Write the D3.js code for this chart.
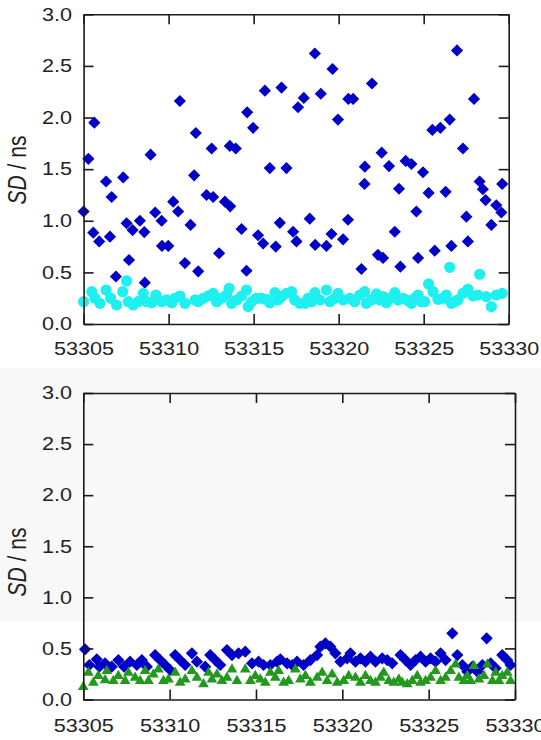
<!DOCTYPE html>
<html><head><meta charset="utf-8">
<script src="https://cdn.jsdelivr.net/npm/d3@7"></script>
<style>body{margin:0;background:#fff}svg{display:block}</style>
</head><body>
<svg id="c" width="541" height="740"></svg>
<script>
// ---------- data ----------
const xTicks = [53305, 53310, 53315, 53320, 53325, 53330];
const yTicks = [0, 0.5, 1.0, 1.5, 2.0, 2.5, 3.0];

// top panel: blue diamonds
const topBlueMJD = [53305.00,53305.28,53305.57,53305.63,53305.92,53306.32,53306.55,53306.65,53306.90,53307.33,53307.53,53307.67,53307.88,53308.31,53308.57,53308.60,53308.94,53309.21,53309.59,53309.61,53309.98,53310.27,53310.56,53310.66,53310.96,53311.29,53311.50,53311.60,53311.74,53312.23,53312.53,53312.62,53312.97,53313.31,53313.60,53313.62,53313.95,53314.29,53314.58,53314.62,53314.97,53315.26,53315.56,53315.66,53315.95,53316.30,53316.54,53316.64,53316.93,53317.32,53317.52,53317.61,53317.95,53318.30,53318.60,53318.62,53318.95,53319.28,53319.58,53319.64,53319.96,53320.26,53320.55,53320.57,53320.85,53321.34,53321.52,53321.54,53321.96,53322.31,53322.53,53322.61,53322.96,53323.30,53323.55,53323.63,53323.94,53324.28,53324.57,53324.67,53324.96,53325.29,53325.51,53325.65,53325.98,53326.29,53326.53,53326.63,53326.96,53327.31,53327.51,53327.60,53327.96,53328.29,53328.48,53328.64,53328.98,53329.27,53329.57,53329.62];
const topBlueSD  = [1.09,1.60,0.885,1.95,0.80,1.38,0.846,1.23,0.46,1.42,0.976,0.62,0.91,1.00,0.89,0.40,1.64,1.08,1.00,0.756,0.756,1.185,1.09,2.16,0.59,0.96,1.44,1.85,0.51,1.25,1.70,1.23,0.685,1.185,1.725,1.14,1.70,0.92,0.516,2.05,1.90,0.86,0.78,2.26,1.51,0.75,0.98,2.29,1.51,0.894,0.80,2.10,2.19,1.02,2.62,0.766,2.23,0.756,0.872,2.47,1.98,0.82,1.01,2.18,2.18,0.533,1.357,1.524,2.33,0.67,1.66,0.64,1.53,0.894,1.31,0.555,1.58,1.55,1.09,0.64,1.47,1.27,1.88,0.71,1.90,1.28,1.98,0.756,2.65,1.70,1.04,0.80,2.18,1.38,1.305,1.20,0.96,1.15,1.08,1.357];

// top panel: cyan circles
const topCyanMJD = [53305.00,53305.48,53305.67,53305.96,53306.32,53306.59,53306.94,53307.30,53307.53,53307.63,53307.92,53308.21,53308.51,53308.71,53309.00,53309.25,53309.59,53309.88,53310.18,53310.37,53310.66,53310.96,53311.55,53311.74,53312.03,53312.33,53312.62,53312.82,53313.11,53313.41,53313.56,53313.70,53314.00,53314.29,53314.58,53314.68,53314.88,53315.17,53315.46,53315.76,53315.95,53316.25,53316.44,53316.64,53316.93,53317.23,53317.42,53317.71,53318.01,53318.20,53318.40,53318.60,53318.89,53319.28,53319.48,53319.77,53319.96,53320.26,53320.65,53320.94,53321.24,53321.53,53321.63,53321.93,53322.22,53322.41,53322.61,53322.81,53323.00,53323.30,53323.49,53323.78,53324.08,53324.28,53324.47,53324.67,53324.86,53325.06,53325.29,53325.55,53325.84,53326.13,53326.33,53326.53,53326.63,53326.82,53327.02,53327.31,53327.60,53327.90,53328.19,53328.29,53328.68,53328.98,53329.27,53329.62];
const topCyanSD  = [0.216,0.313,0.249,0.20,0.329,0.249,0.184,0.313,0.417,0.216,0.184,0.216,0.297,0.216,0.206,0.281,0.216,0.233,0.206,0.249,0.271,0.20,0.233,0.216,0.249,0.271,0.297,0.216,0.249,0.281,0.346,0.20,0.233,0.271,0.329,0.168,0.216,0.249,0.249,0.239,0.206,0.304,0.233,0.265,0.297,0.313,0.233,0.20,0.20,0.249,0.216,0.304,0.233,0.329,0.216,0.249,0.297,0.233,0.249,0.216,0.281,0.313,0.20,0.233,0.291,0.233,0.265,0.206,0.249,0.304,0.233,0.249,0.226,0.20,0.249,0.281,0.216,0.216,0.388,0.313,0.239,0.249,0.281,0.549,0.20,0.216,0.233,0.297,0.336,0.271,0.281,0.482,0.265,0.168,0.281,0.297];

// bottom panel: blue diamonds
const botBlueMJD = [53305.10,53305.35,53305.78,53305.93,53306.26,53306.65,53307.03,53307.36,53307.71,53308.10,53308.39,53308.68,53309.16,53309.45,53309.74,53310.03,53310.32,53310.61,53310.90,53311.29,53311.58,53312.06,53312.35,53312.64,53312.93,53313.32,53313.61,53313.99,53314.38,53314.77,53315.15,53315.44,53315.83,53316.22,53316.41,53316.80,53317.09,53317.38,53317.76,53318.15,53318.54,53318.73,53319.02,53319.31,53319.60,53319.89,53320.28,53320.47,53320.76,53321.05,53321.34,53321.63,53321.92,53322.31,53322.60,53322.89,53323.37,53323.66,53323.95,53324.24,53324.53,53324.82,53325.11,53325.40,53325.69,53325.98,53326.37,53326.66,53326.95,53327.24,53327.53,53327.82,53328.11,53328.36,53328.59,53328.88,53329.26,53329.55,53329.74];
const botBlueSD  = [0.491,0.338,0.393,0.321,0.354,0.321,0.386,0.321,0.37,0.338,0.386,0.321,0.435,0.386,0.338,0.289,0.435,0.386,0.338,0.452,0.37,0.321,0.435,0.386,0.338,0.484,0.435,0.452,0.468,0.354,0.37,0.338,0.338,0.37,0.393,0.354,0.338,0.37,0.338,0.386,0.435,0.517,0.55,0.517,0.452,0.37,0.403,0.452,0.37,0.403,0.37,0.419,0.37,0.403,0.386,0.354,0.435,0.386,0.338,0.386,0.419,0.37,0.403,0.37,0.452,0.386,0.648,0.435,0.338,0.272,0.321,0.272,0.338,0.599,0.354,0.305,0.435,0.386,0.338];

// bottom panel: green triangles
const botGreenMJD = [53305.00,53305.29,53305.58,53305.87,53306.26,53306.36,53306.74,53307.03,53307.42,53307.61,53308.00,53308.29,53308.58,53308.77,53309.06,53309.35,53309.64,53309.93,53310.32,53310.61,53310.90,53311.29,53311.58,53311.96,53312.25,53312.45,53312.74,53313.03,53313.32,53313.61,53313.90,53314.38,53314.67,53314.96,53315.25,53315.54,53315.83,53316.12,53316.31,53316.60,53316.89,53317.28,53317.57,53317.86,53318.15,53318.54,53318.83,53319.12,53319.41,53319.70,53320.08,53320.37,53320.76,53321.05,53321.34,53321.63,53321.92,53322.21,53322.40,53322.69,53322.98,53323.27,53323.47,53323.76,53324.05,53324.34,53324.53,53324.82,53325.11,53325.40,53325.69,53325.98,53326.27,53326.56,53326.75,53327.04,53327.24,53327.43,53327.62,53327.91,53328.20,53328.40,53328.69,53328.88,53329.07,53329.26,53329.55,53329.74];
const botGreenSD  = [0.132,0.272,0.174,0.24,0.198,0.289,0.191,0.24,0.191,0.272,0.223,0.191,0.289,0.191,0.256,0.305,0.191,0.207,0.272,0.174,0.207,0.289,0.223,0.159,0.272,0.207,0.256,0.191,0.223,0.305,0.191,0.305,0.191,0.24,0.207,0.174,0.272,0.223,0.289,0.174,0.191,0.305,0.207,0.24,0.174,0.223,0.272,0.191,0.256,0.174,0.191,0.24,0.223,0.174,0.24,0.191,0.174,0.223,0.272,0.191,0.174,0.207,0.174,0.159,0.191,0.24,0.174,0.191,0.223,0.289,0.191,0.223,0.289,0.354,0.223,0.191,0.24,0.191,0.338,0.207,0.24,0.354,0.191,0.272,0.191,0.24,0.272,0.191];

// ---------- drawing ----------
const FONT = "'Liberation Sans', Arial, Helvetica, sans-serif";
const STRETCH = 1.2;
const svg = d3.select('#c');
svg.append('rect').attr('x',0).attr('y',368).attr('width',541).attr('height',254).attr('fill','#f8f8f8');

const diamond = d3.symbol(d3.symbolSquare, 74)();
const triangle = d3.symbol(d3.symbolTriangle, 50)();

function panel(cfg) {
  const x = d3.scaleLinear().domain([53305, 53330]).range([cfg.x0, cfg.x1]);
  const y = d3.scaleLinear().domain([0, 3]).range([cfg.y0, cfg.y1]);
  const g = svg.append('g');

  cfg.series.forEach(s => {
    const data = s.mjd.map((m, i) => [m, s.sd[i]]);
    const sel = g.append('g').selectAll('path').data(data).join('path')
      .attr('fill', s.color);
    if (s.shape === 'circle') {
      sel.attr('d', d3.symbol(d3.symbolCircle, Math.PI * 5.6 * 5.6)())
         .attr('transform', d => `translate(${x(d[0])},${y(d[1])})`);
    } else if (s.shape === 'diamond') {
      sel.attr('d', diamond)
         .attr('transform', d => `translate(${x(d[0])},${y(d[1])}) rotate(45)`);
    } else {
      sel.attr('d', triangle)
         .attr('transform', d => `translate(${x(d[0])},${y(d[1]) + 1})`);
    }
  });

  const axes = [
    {a: d3.axisBottom(x).tickValues(xTicks).tickFormat(d3.format('d')).tickPadding(cfg.xpad), t: `translate(0,${cfg.y0})`, lab: 'x'},
    {a: d3.axisTop(x).tickValues(xTicks).tickFormat(''), t: `translate(0,${cfg.y1})`},
    {a: d3.axisLeft(y).tickValues(yTicks).tickFormat(d3.format('.1f')).tickPadding(cfg.ypad), t: `translate(${cfg.x0},0)`, lab: 'y'},
    {a: d3.axisRight(y).tickValues(yTicks).tickFormat(''), t: `translate(${cfg.x1},0)`}
  ];
  axes.forEach(o => {
    o.a.tickSizeInner(-10).tickSizeOuter(0);
    const ag = g.append('g').attr('transform', o.t).call(o.a);
    ag.select('.domain').attr('stroke', '#1a1a1a').attr('stroke-width', 1.6);
    ag.selectAll('.tick line').attr('stroke', '#1a1a1a').attr('stroke-width', 1.6);
    ag.selectAll('.tick text').attr('font-family', FONT).attr('font-size', 18).attr('fill', '#222');
    if (o.lab === 'x') {
      ag.selectAll('.tick text').attr('transform', `scale(${STRETCH},1)`);
    } else if (o.lab === 'y') {
      ag.selectAll('.tick text').attr('x', -cfg.ypad / STRETCH).attr('transform', `scale(${STRETCH},1)`);
    }
  });

  const t = svg.append('text')
    .attr('transform', `translate(26,${cfg.titleY}) scale(${STRETCH},1) rotate(-90)`)
    .attr('text-anchor', 'middle')
    .attr('font-family', FONT).attr('font-size', 21).attr('fill', '#222');
  t.append('tspan').attr('font-style', 'italic').text('SD');
  t.append('tspan').text(' / ns');
}

panel({
  x0: 83.6, x1: 508.7, y0: 324, y1: 14.3, xpad: 18, ypad: 11.6, titleY: 170,
  series: [
    {mjd: topBlueMJD, sd: topBlueSD, color: '#0000c8', shape: 'diamond'},
    {mjd: topCyanMJD, sd: topCyanSD, color: '#1ef0f0', shape: 'circle'}
  ]
});
panel({
  x0: 83.3, x1: 515, y0: 699.5, y1: 393, xpad: 19.5, ypad: 11.3, titleY: 562,
  series: [
    {mjd: botBlueMJD, sd: botBlueSD, color: '#0000c8', shape: 'diamond'},
    {mjd: botGreenMJD, sd: botGreenSD, color: '#22991c', shape: 'triangle'}
  ]
});
</script>
</body></html>
